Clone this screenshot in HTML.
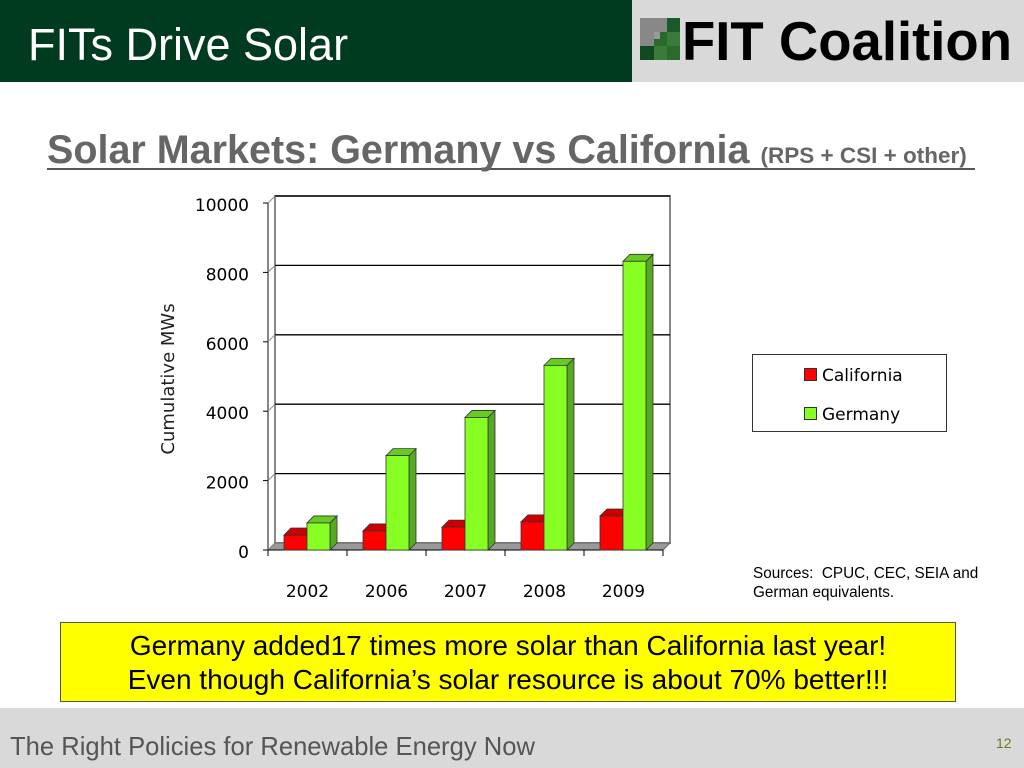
<!DOCTYPE html>
<html><head><meta charset="utf-8"><style>
body{margin:0;width:1024px;height:768px;position:relative;background:#fff;font-family:"Liberation Sans",sans-serif;overflow:hidden}
.abs{position:absolute}
</style></head><body>
<div class="abs" style="left:0;top:0;width:632px;height:82px;background:#003b1f"></div>
<div class="abs" style="left:28px;top:19px;font-size:45px;color:#fff">FITs Drive Solar</div>
<div class="abs" style="left:632px;top:0;width:392px;height:82px;background:#d9d9d9"></div>
<svg class="abs" style="left:640px;top:18px" width="40" height="42">
<rect x="0" y="0" width="40" height="42" fill="#888"/>
<rect x="27" y="0" width="13" height="14" fill="#1a5a2a"/><rect x="27" y="14" width="13" height="14" fill="#3a7a3a"/><rect x="14" y="14" width="13" height="14" fill="#2a6a2a"/>
<rect x="0" y="28" width="14" height="14" fill="#124a1e"/><rect x="14" y="28" width="13" height="14" fill="#3a7a3a"/><rect x="27" y="28" width="13" height="14" fill="#2a6a2a"/><rect x="14" y="14" width="6" height="7" fill="#9a9a9a"/>
</svg>
<div class="abs" style="left:682px;top:10px;font-size:54.5px;font-weight:bold;color:#000">FIT Coalition</div>
<div class="abs" style="left:47px;top:128px;width:928px;border-bottom:2px solid #555;height:40px;color:#666;font-size:39.5px;font-weight:bold;white-space:nowrap">Solar Markets: Germany vs California <span style="font-size:22.5px">(RPS + CSI + other)</span></div>
<svg class="abs" style="left:0;top:0" width="1024" height="768" id="chart"></svg>
<div class="abs" style="left:752px;top:354px;width:193px;height:76px;border:1px solid #333;background:#fff"></div>
<div class="abs" style="left:804px;top:366px;font-size:17px;font-family:'DejaVu Sans',sans-serif"><span style="display:inline-block;width:11px;height:11px;background:#f00;border:1px solid #333;margin-right:5px"></span>California</div>
<div class="abs" style="left:804px;top:405px;font-size:17px;font-family:'DejaVu Sans',sans-serif"><span style="display:inline-block;width:11px;height:11px;background:#8f2;border:1px solid #333;margin-right:5px"></span>Germany</div>
<div class="abs" style="left:753px;top:564px;font-size:15.3px;line-height:19px">Sources:&nbsp; CPUC, CEC, SEIA and<br>German equivalents.</div>
<div class="abs" style="left:60px;top:622px;width:896px;height:80px;background:#ff0;border:1px solid #555;text-align:center;font-size:28px;line-height:34px;padding-top:6px;box-sizing:border-box;white-space:nowrap">Germany added17 times more solar than California last year!<br>Even though California’s solar resource is about 70% better!!!</div>
<div class="abs" style="left:0;top:708px;width:1024px;height:60px;background:#d9d9d9"></div>
<div class="abs" style="left:10px;top:733px;font-size:25.6px;color:#555">The Right Policies for Renewable Energy Now</div>
<div class="abs" style="left:996px;top:735px;font-size:14px;color:#6a7a20">12</div>
<script>
const categories=["2002","2006","2007","2008","2009"];
const california=[430,550,660,810,980];
const germany=[780,2720,3820,5320,8320];
const ticks=[0,2000,4000,6000,8000,10000];
const svg=document.getElementById('chart');
const NS='http://www.w3.org/2000/svg';
const x0=268,catW=79,y0=550,k=347/10000,dx=7,dy=-7;
const y=v=>y0-v*k;
function el(t,a,p){const e=document.createElementNS(NS,t);for(const n in a)e.setAttribute(n,a[n]);(p||svg).appendChild(e);return e;}
const wall=el('rect',{x:x0+dx,y:y(10000)+dy,width:catW*5,height:10000*k,fill:'#fff',stroke:'#888','stroke-width':2});

const floor=el('polygon',{points:`${x0},${y0} ${x0+dx},${y0+dy} ${x0+dx+catW*5},${y0+dy} ${x0+catW*5},${y0}`,fill:'#999',stroke:'#666'});

el('line',{x1:x0,y1:y(0),x2:x0,y2:y(10000),stroke:'#888','stroke-width':2});
ticks.forEach(t=>{
 if(t>0){const g=el('line',{x1:x0+dx,y1:y(t)+dy,x2:x0+dx+catW*5,y2:y(t)+dy,stroke:'#000','stroke-width':1.3});
 }
 el('line',{x1:x0-5,y1:y(t),x2:x0,y2:y(t),stroke:'#000'});
 el('line',{x1:x0,y1:y(t),x2:x0+dx,y2:y(t)+dy,stroke:'#888'});
 const tx=el('text',{x:249,y:y(t)+8,'text-anchor':'end','font-size':17,'font-family':'DejaVu Sans,sans-serif'});tx.textContent=t;
 
});
el('line',{x1:x0,y1:y0,x2:x0+catW*5,y2:y0,stroke:'#000'});
for(let i=0;i<=5;i++)el('line',{x1:x0+i*catW,y1:y0,x2:x0+i*catW,y2:y0+6,stroke:'#000'});
const yt=el('text',{x:0,y:0,transform:'translate(174,379) rotate(-90)','text-anchor':'middle','font-size':18,'font-family':'DejaVu Sans,sans-serif',fill:'#222'});yt.textContent='Cumulative MWs';

function bar(xl,v,front,top,side,name){
 const g=el('g',{});
 const w=23,yt=y(v);
 el('polygon',{points:`${xl+w},${yt} ${xl+w+dx},${yt+dy} ${xl+w+dx},${y0+dy} ${xl+w},${y0}`,fill:side,stroke:'#333','stroke-width':0.8},g);
 el('polygon',{points:`${xl},${yt} ${xl+dx},${yt+dy} ${xl+w+dx},${yt+dy} ${xl+w},${yt}`,fill:top,stroke:'#333','stroke-width':0.8},g);
 el('rect',{x:xl,y:yt,width:w,height:y0-yt,fill:front,stroke:'#333','stroke-width':0.8},g);
}
categories.forEach((c,i)=>{
 const cx=x0+i*catW;
 bar(cx+16,california[i],'#f00','#c00','#b00','bar-california-'+c);
 bar(cx+39,germany[i],'#8f2','#6c2','#5a2','bar-germany-'+c);
 const t=el('text',{x:cx+catW/2,y:597,'text-anchor':'middle','font-size':17,'font-family':'DejaVu Sans,sans-serif'});t.textContent=c;
 
});
</script>
</body></html>
